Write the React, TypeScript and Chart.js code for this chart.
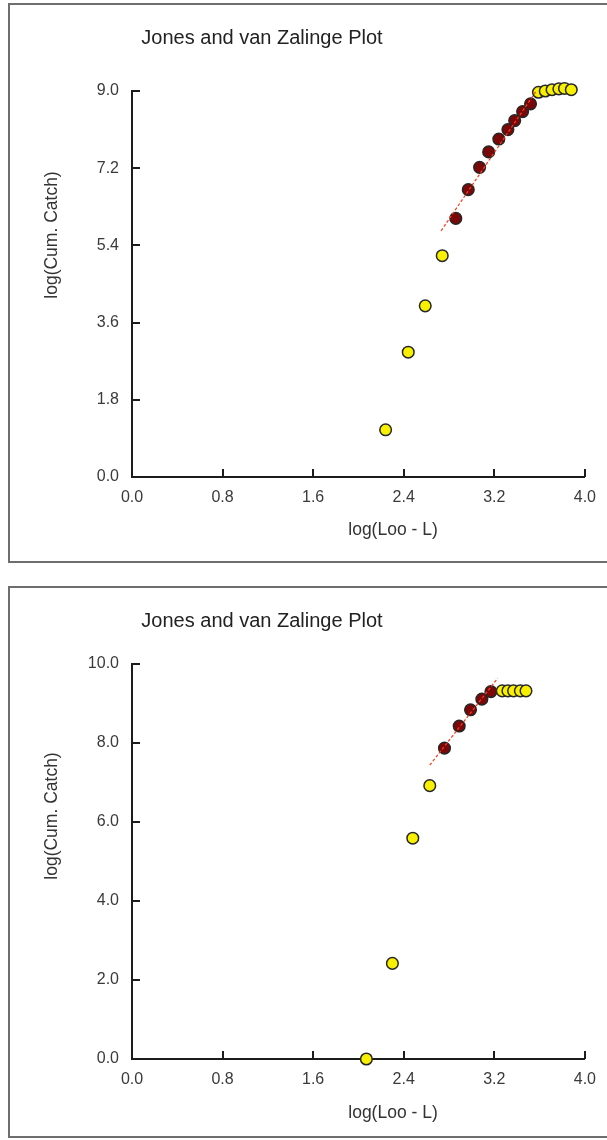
import React, { useEffect, useRef } from "react";
import { Chart, registerables } from "chart.js";
Chart.register(...registerables);

// ---------- Panel 1 data ----------
const p1LowX = [2.24, 2.44, 2.59, 2.74];
const p1LowY = [1.1, 2.91, 3.99, 5.16];
const p1FitX = [2.86, 2.97, 3.07, 3.15, 3.24, 3.32, 3.38, 3.45, 3.52];
const p1FitY = [6.03, 6.7, 7.22, 7.58, 7.88, 8.1, 8.31, 8.52, 8.7];
const p1HighX = [3.59, 3.65, 3.71, 3.77, 3.82, 3.88];
const p1HighY = [8.97, 9.0, 9.03, 9.05, 9.06, 9.03];
const p1LineX = [2.73, 3.57];
const p1LineY = [5.74, 9.0];
const p1YTicks = [0, 1.8, 3.6, 5.4, 7.2, 9.0];

// ---------- Panel 2 data ----------
const p2LowX = [2.07, 2.3, 2.48, 2.63];
const p2LowY = [0.0, 2.42, 5.59, 6.92];
const p2FitX = [2.76, 2.89, 2.99, 3.09, 3.17];
const p2FitY = [7.87, 8.43, 8.84, 9.11, 9.3];
const p2HighX = [3.27, 3.32, 3.37, 3.43, 3.48];
const p2HighY = [9.32, 9.32, 9.32, 9.32, 9.32];
const p2LineX = [2.63, 3.23];
const p2LineY = [7.44, 9.64];
const p2YTicks = [0, 2, 4, 6, 8, 10];

const xTicks = [0, 0.8, 1.6, 2.4, 3.2, 4.0];

const TITLE = "Jones and van Zalinge Plot";
const X_TITLE = "log(Loo - L)";
const Y_TITLE = "log(Cum. Catch)";

const FONT = "'Liberation Sans', Arial, sans-serif";
const YELLOW = "#f9f000";
const DARKRED = "#7a0808";
const EDGE = "#262626";
const AXIS = "#1c1c1c";

const zip = (xs: number[], ys: number[]) => xs.map((x, i) => ({ x, y: ys[i] }));

type PanelCfg = {
  low: [number[], number[]];
  fit: [number[], number[]];
  high: [number[], number[]];
  line: [number[], number[]];
  yTicks: number[];
  padTop: number;
  xAxisH: number;
  yTitleY: number;
};

const decor = {
  id: "decor",
  afterDraw(chart: any, _args: any, opts: any) {
    const { ctx, chartArea } = chart;
    const xs = chart.scales.x;
    const ys = chart.scales.y;
    ctx.save();
    // inward tick marks
    ctx.strokeStyle = AXIS;
    ctx.lineWidth = 2;
    ctx.beginPath();
    for (const t of xs.ticks) {
      if (t.value === 0) continue;
      const px = Math.round(xs.getPixelForValue(t.value));
      ctx.moveTo(px, chartArea.bottom);
      ctx.lineTo(px, chartArea.bottom - 8);
    }
    for (const t of ys.ticks) {
      if (t.value === 0) continue;
      const py = Math.round(ys.getPixelForValue(t.value));
      ctx.moveTo(chartArea.left, py);
      ctx.lineTo(chartArea.left + 8, py);
    }
    ctx.stroke();
    // titles
    ctx.fillStyle = "#222";
    ctx.textAlign = "center";
    ctx.textBaseline = "middle";
    ctx.font = `20px ${FONT}`;
    ctx.fillText(TITLE, 252, 33);
    ctx.fillStyle = "#333";
    ctx.font = `17.5px ${FONT}`;
    ctx.fillText(X_TITLE, 383, 525);
    ctx.translate(42, opts.yTitleY);
    ctx.rotate(-Math.PI / 2);
    ctx.fillText(Y_TITLE, 0, 0);
    ctx.restore();
  },
};

function makeConfig(c: PanelCfg): any {
  const pointDs = (data: any[], color: string) => ({
    type: "scatter",
    data,
    backgroundColor: color,
    borderColor: EDGE,
    borderWidth: 1.5,
    pointRadius: 5.8,
    pointHoverRadius: 5.8,
    clip: false,
  });
  return {
    type: "scatter",
    data: {
      datasets: [
        {
          type: "line",
          data: zip(c.line[0], c.line[1]),
          borderColor: "#ff3a1a",
          borderWidth: 1.2,
          borderDash: [3, 2],
          pointRadius: 0,
          fill: false,
          clip: false,
        },
        pointDs(zip(c.high[0], c.high[1]), YELLOW),
        pointDs(zip(c.low[0], c.low[1]), YELLOW),
        pointDs(zip(c.fit[0], c.fit[1]), DARKRED),
      ],
    },
    options: {
      responsive: false,
      animation: false,
      events: [],
      layout: { padding: { top: c.padTop, right: 21, bottom: 0, left: 0 } },
      plugins: {
        legend: { display: false },
        tooltip: { enabled: false },
        decor: { yTitleY: c.yTitleY },
      },
      scales: {
        x: {
          type: "linear",
          min: 0,
          max: 4,
          afterBuildTicks: (s: any) => {
            s.ticks = xTicks.map((v) => ({ value: v }));
          },
          afterFit: (s: any) => {
            s.height = c.xAxisH;
          },
          grid: { display: true, drawOnChartArea: false, drawTicks: false },
          border: { display: true, color: AXIS, width: 2 },
          ticks: {
            padding: 11,
            color: "#3a3a3a",
            font: { family: FONT, size: 16 },
            maxRotation: 0,
            autoSkip: false,
            callback: (v: any) => Number(v).toFixed(1),
          },
        },
        y: {
          type: "linear",
          min: 0,
          max: c.yTicks[c.yTicks.length - 1],
          afterBuildTicks: (s: any) => {
            s.ticks = c.yTicks.map((v) => ({ value: v }));
          },
          afterFit: (s: any) => {
            s.width = 122;
          },
          grid: { display: true, drawOnChartArea: false, drawTicks: false },
          border: { display: true, color: AXIS, width: 2 },
          ticks: {
            padding: 13,
            color: "#3a3a3a",
            font: { family: FONT, size: 16 },
            autoSkip: false,
            callback: (v: any) => Number(v).toFixed(1),
          },
        },
      },
    },
    plugins: [decor],
  };
}

function Panel({ cfg, top, height }: { cfg: PanelCfg; top: number; height: number }) {
  const ref = useRef<HTMLCanvasElement>(null);
  useEffect(() => {
    const chart = new Chart(ref.current as HTMLCanvasElement, makeConfig(cfg));
    return () => chart.destroy();
  }, []);
  return (
    <div
      style={{
        position: "absolute",
        left: 8,
        top,
        width: 620,
        height,
        border: "2px solid #6e6e6e",
        boxSizing: "border-box",
        background: "#fff",
      }}
    >
      <canvas
        ref={ref}
        width={597}
        height={height - 4}
        style={{ position: "absolute", left: 0, top: 0, display: "block" }}
      />
    </div>
  );
}

const panel1: PanelCfg = {
  low: [p1LowX, p1LowY],
  fit: [p1FitX, p1FitY],
  high: [p1HighX, p1HighY],
  line: [p1LineX, p1LineY],
  yTicks: p1YTicks,
  padTop: 86,
  xAxisH: 84,
  yTitleY: 230,
};

const panel2: PanelCfg = {
  low: [p2LowX, p2LowY],
  fit: [p2FitX, p2FitY],
  high: [p2HighX, p2HighY],
  line: [p2LineX, p2LineY],
  yTicks: p2YTicks,
  padTop: 76,
  xAxisH: 77,
  yTitleY: 228,
};

export default function App() {
  return (
    <div
      style={{
        position: "absolute",
        left: 0,
        top: 0,
        width: 607,
        height: 1140,
        overflow: "hidden",
        background: "#fff",
      }}
    >
      <Panel cfg={panel1} top={3} height={560} />
      <Panel cfg={panel2} top={586} height={552} />
    </div>
  );
}
